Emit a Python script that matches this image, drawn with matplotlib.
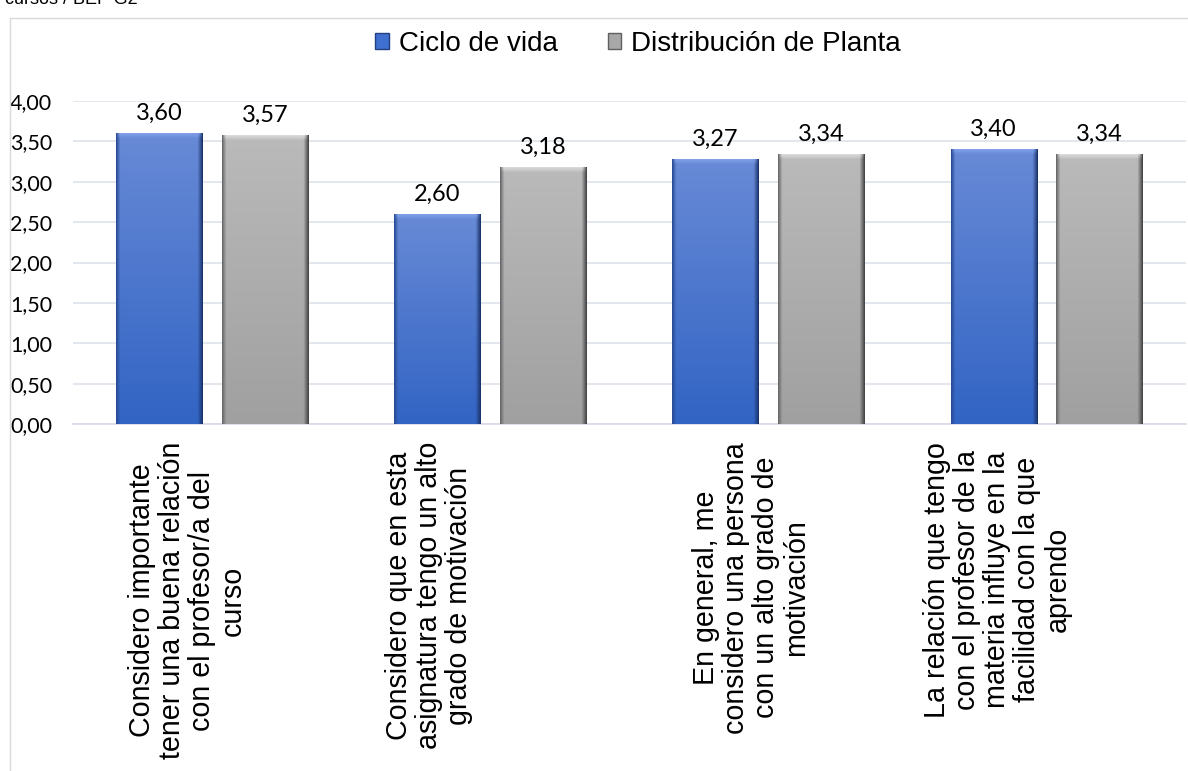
import numpy as np
import matplotlib
matplotlib.use("Agg")
import matplotlib.pyplot as plt
from matplotlib.patches import Patch, Rectangle
from matplotlib.ticker import FuncFormatter
import matplotlib.transforms as mtransforms

# Datos de la encuesta
preguntas = [
    "Considero importante\ntener una buena relación\ncon el profesor/a del\ncurso",
    "Considero que en esta\nasignatura tengo un alto\ngrado de motivación",
    "En general, me\nconsidero una persona\ncon un alto grado de\nmotivación",
    "La relación que tengo\ncon el profesor de la\nmateria influye en la\nfacilidad con la que\naprendo",
]
ciclo_vida = [3.60, 2.60, 3.27, 3.40]
distribucion_planta = [3.57, 3.18, 3.34, 3.34]
series = ["Ciclo de vida", "Distribución de Planta"]

# desplazamiento horizontal de cada bloque de texto del eje x
desp_etiquetas = [-0.09, -0.22, -0.063, -0.178]

AZUL = dict(top=(104, 138, 214), bot=(50, 100, 196), edge=(28, 52, 108),
            left=(40, 76, 150), bevel=(128, 160, 232))
GRIS = dict(top=(186, 186, 186), bot=(160, 160, 160), edge=(70, 70, 70),
            left=(105, 105, 105), bevel=(218, 218, 218))


def relleno_biselado(ax, barra, c, px_x, px_y):
    x0, y0 = barra.get_x(), barra.get_y()
    w, h = barra.get_width(), barra.get_height()
    ny, nx = 300, 90
    t = np.linspace(0, 1, ny)[:, None, None]
    top = np.array(c["top"]) / 255
    bot = np.array(c["bot"]) / 255
    img = top + (bot - top) * t
    img = np.repeat(img, nx, axis=1)
    # bordes en pixeles -> fracciones
    bw = 5 / (w * px_x)
    bh = 5 / (h * px_y)
    u = np.linspace(0, 1, nx)
    der = np.clip((u - (1 - bw)) / bw, 0, 1)[None, :, None]
    izq = np.clip((bw * 0.8 - u) / (bw * 0.8), 0, 1)[None, :, None]
    sup = np.clip((bh - t) / bh, 0, 1)
    img = img * (1 - der) + np.array(c["edge"]) / 255 * der
    img = img * (1 - izq) + np.array(c["left"]) / 255 * izq
    sup = sup * (1 - der) * (1 - izq)
    img = img * (1 - sup) + np.array(c["bevel"]) / 255 * sup
    ax.imshow(np.clip(img, 0, 1), extent=[x0, x0 + w, y0, y0 + h],
              origin="upper", aspect="auto", zorder=3, interpolation="bilinear")


fig = plt.figure(figsize=(11.88, 7.71), dpi=100)
ax = fig.add_axes([0.0614, 0.450, 0.9366, 0.419])

# marco exterior del grafico
fig.add_artist(Rectangle((10 / 1188, -0.05), 1.2, 1 - 18 / 771 + 0.05,
                         transform=fig.transFigure, fill=False,
                         edgecolor="#d9d9d9", lw=1.0))
fig.text(0.004, 1.0, "cursos / BEP G2", fontsize=13, family="Liberation Sans",
         va="center", ha="left", color="black")

x = np.arange(len(preguntas))
ancho = 0.31
off = 0.19
b1 = ax.bar(x - off, ciclo_vida, ancho, color="none", zorder=2)
b2 = ax.bar(x + off, distribucion_planta, ancho, color="none", zorder=2)

ax.set_xlim(-0.5, 3.5)
ax.set_ylim(0, 4)
px_x = 1113 / 4.0
px_y = 323 / 4.0
for b in b1:
    relleno_biselado(ax, b, AZUL, px_x, px_y)
for b in b2:
    relleno_biselado(ax, b, GRIS, px_x, px_y)
ax.set_xlim(-0.5, 3.5)
ax.set_ylim(0, 4)

fmt = lambda v: f"{v:.2f}".replace(".", ",")
for cont in (b1, b2):
    ax.bar_label(cont, labels=[fmt(v) for v in cont.datavalues], padding=7,
                 fontsize=17, family="Lato", color="black", zorder=5)

ax.set_yticks(np.arange(0, 4.01, 0.5))
ax.yaxis.set_major_formatter(FuncFormatter(lambda v, p: fmt(v)))
ax.tick_params(axis="y", length=0, pad=15, labelsize=15.5)
for lab in ax.get_yticklabels():
    lab.set_family("Lato")
ax.set_xticks([])
ax.grid(axis="y", color="#dde1ea", lw=1.2, zorder=0)
ax.set_axisbelow(True)
for s in ["left", "right", "top"]:
    ax.spines[s].set_visible(False)
ax.spines["bottom"].set_color("#d5dbe5")
ax.spines["bottom"].set_linewidth(1.2)

trans = mtransforms.blended_transform_factory(ax.transData, ax.transAxes)
for i, txt in enumerate(preguntas):
    ax.text(i + desp_etiquetas[i], -0.055, txt, rotation=90, ha="center", va="top",
            multialignment="center", fontsize=20.6, family="Liberation Sans",
            linespacing=1.1, transform=trans)

handles = [Patch(facecolor="#3f6fcf", edgecolor="#23407f", lw=1.0),
           Patch(facecolor="#a8a8a8", edgecolor="#606060", lw=1.0)]
fig.legend(handles, series, loc="center", bbox_to_anchor=(0.537, 0.943),
           ncol=2, frameon=False, prop={"family": "Liberation Sans", "size": 20},
           handlelength=0.5, handleheight=0.5, handletextpad=0.35,
           columnspacing=1.8)

fig.savefig("out.png", dpi=100)
